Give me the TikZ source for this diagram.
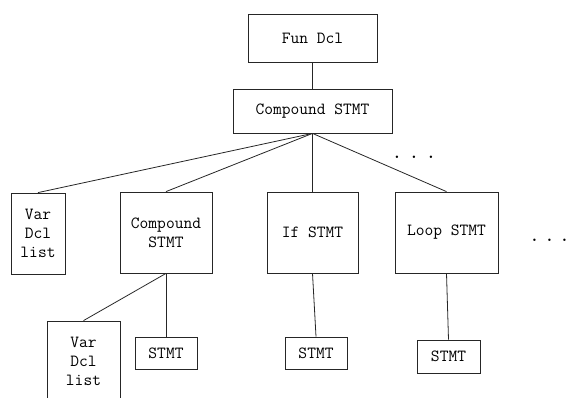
\documentclass[tikz,border=0pt]{standalone}
\usepackage{fontspec}
\newcommand{\dotrow}[1]{.\hspace{#1}.\hspace{#1}.}
\begin{document}
\begin{tikzpicture}[x=1pt,y=-1pt,
  box/.style={draw=black!85, line width=0.8pt, rectangle, inner sep=0pt,
    align=center, font=\ttfamily\fontsize{17}{19}\selectfont},
  link/.style={draw=black!85, line width=0.8pt},
  dots/.style={inner sep=0pt, anchor=base, font=\rmfamily\bfseries\fontsize{17}{19}\selectfont}]
\useasboundingbox (0,0) rectangle (569,397);
\clip (0,0) rectangle (569,397);

% top of the tree
\node[box, minimum width=129pt, minimum height=48pt] (fd) at (312.5,38) {Fun Dcl};
\node[box, minimum width=159pt, minimum height=44pt] (cs) at (312.5,111) {Compound STMT};

% second level
\node[box, minimum width=54pt, minimum height=81pt] (vd1) at (38,233.5) {Var\\Dcl\\list};
\node[box, minimum width=92pt, minimum height=81pt] (cs2) at (166,232.5) {Compound\\STMT};
\node[box, minimum width=91pt, minimum height=81pt] (ifs) at (312.5,232.5) {If STMT};
\node[box, minimum width=103pt, minimum height=81pt] (loop) at (446.5,232.5) {Loop STMT};

% third level
\node[box, minimum width=73pt, minimum height=81pt] (vd2) at (83.5,361.5) {Var\\Dcl\\list};
\node[box, minimum width=62pt, minimum height=32pt] (s2) at (166,353) {STMT};
\node[box, minimum width=62pt, minimum height=32pt] (s3) at (316,353) {STMT};
\node[box, minimum width=63pt, minimum height=33pt] (s4) at (448.5,356.5) {STMT};

% ellipses for omitted children
\node[dots] (more1) at (414,158.5) {\dotrow{11.6pt}};
\node[dots] (more2) at (549.5,241.5) {\dotrow{9.6pt}};

% connectors
\draw[link] (fd.south) -- (cs.north);
\draw[link] (cs.south) -- (vd1.north);
\draw[link] (cs.south) -- (cs2.north);
\draw[link] (cs.south) -- (ifs.north);
\draw[link] (cs.south) -- (loop.north);
\draw[link] (cs2.south) -- (vd2.north);
\draw[link] (cs2.south) -- (s2.north);
\draw[link] (ifs.south) -- (s3.north);
\draw[link] (loop.south) -- (s4.north);
\end{tikzpicture}
\end{document}
